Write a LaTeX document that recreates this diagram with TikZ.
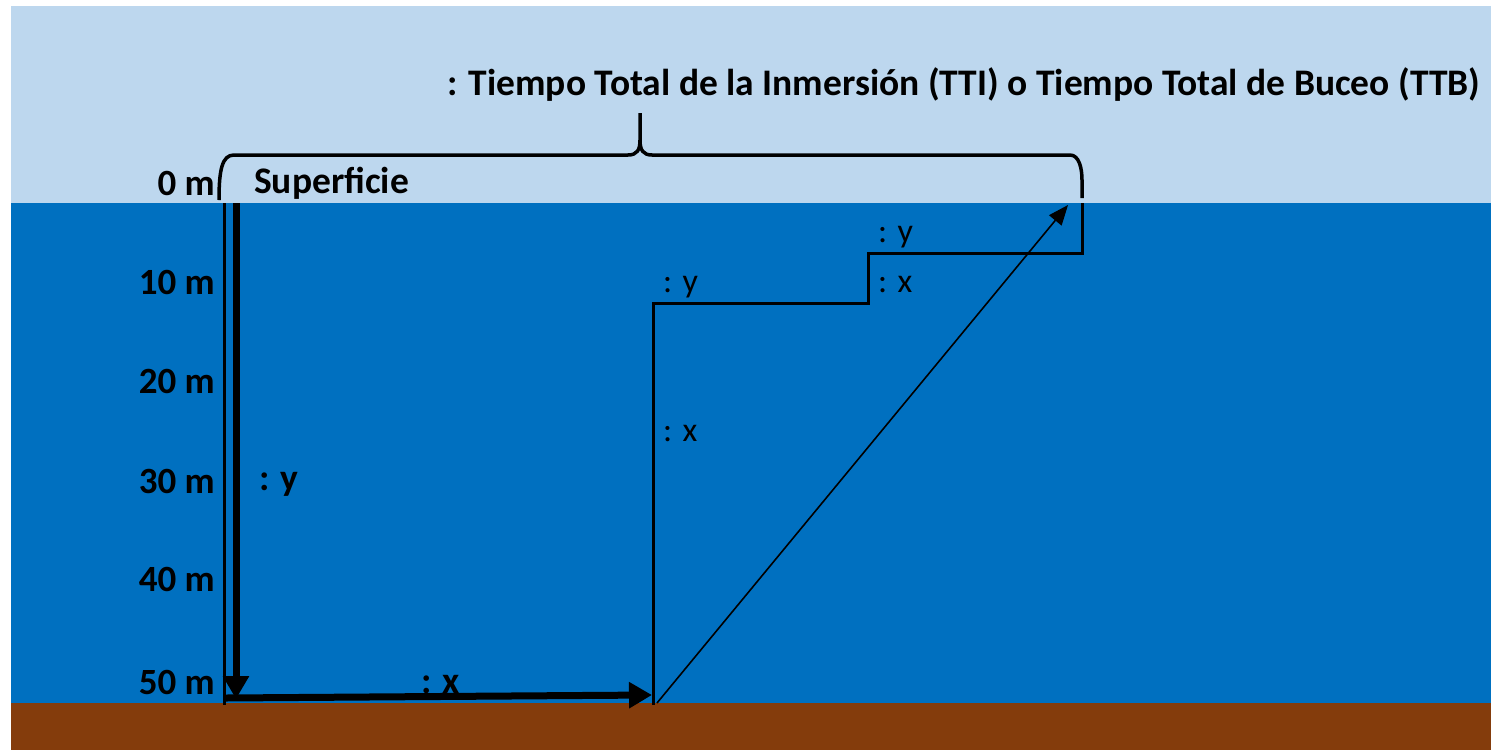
\documentclass[tikz,border=0pt]{standalone}
\usepackage{fontspec}
\setmainfont{Carlito}
\usetikzlibrary{arrows.meta}
\definecolor{sky}{HTML}{BDD7EE}
\definecolor{water}{HTML}{0070C0}
\definecolor{seabed}{HTML}{843C0C}
\begin{document}
\begin{tikzpicture}[x=1pt,y=-1pt,
  depth/.style={anchor=east,inner sep=0pt,font=\fontsize{37}{40}\selectfont\bfseries},
  boldlbl/.style={anchor=base west,inner sep=0pt,font=\fontsize{37.5}{40}\selectfont\bfseries},
  lbl/.style={anchor=base west,inner sep=0pt,font=\fontsize{34}{40}\selectfont},
  profile/.style={line width=3pt,line join=miter},
  thickarrow/.style={line width=7pt,-{Triangle[length=23pt,width=25pt]}},
  thinarrow/.style={line width=1.6pt,-{Triangle[length=20pt,width=16pt]}},
  bracepath/.style={line width=3.5pt,line cap=butt}]
\useasboundingbox (0,0) rectangle (1491,750);
\fill[white] (0,0) rectangle (1491,750);
\fill[sky] (11,6) rectangle (1491,203);
\fill[water] (11,203) rectangle (1491,703);
\fill[seabed] (11,703) rectangle (1491,750);

% title and labels
\node[boldlbl] (title) at (447,95) {: Tiempo Total de la Inmersión (TTI) o Tiempo Total de Buceo (TTB)};
\node[boldlbl] (surf) at (254,193) {Superficie};
\node[depth] (d0) at (215,183) {0 m};
\node[depth] (d10) at (215,282) {10 m};
\node[depth] (d20) at (215,381) {20 m};
\node[depth] (d30) at (215,481) {30 m};
\node[depth] (d40) at (215,579) {40 m};
\node[depth] (d50) at (215,682) {50 m};

% profile
\coordinate (p0) at (224,203);
\coordinate (p1) at (224,705);
\coordinate (p2) at (653,705);
\coordinate (p3) at (653,303);
\coordinate (p4) at (868,303);
\coordinate (p5) at (868,253);
\coordinate (p6) at (1082,253);
\coordinate (p7) at (1082,203);
\draw[profile] (p0) -- (p1);
\draw[profile] (p2) -- (p3) -- (p4) -- (p5) -- (p6) -- (p7);

% descent and bottom arrows
\coordinate (a0) at (236,203);
\coordinate (a1) at (236,699);
\coordinate (b0) at (226,698);
\coordinate (b1) at (652,695);
\draw[thickarrow] (a0) -- (a1);
\draw[thickarrow] (b0) -- (b1);

% ascent arrow
\coordinate (c0) at (657,703);
\coordinate (c1) at (1068,205);
\draw[thinarrow] (c0) -- (c1);

% segment labels
\node[boldlbl] (ly1) at (259,490) {: y};
\node[boldlbl] (lx1) at (421,693) {: x};
\node[lbl] (lx2) at (663,441) {: x};
\node[lbl] (ly2) at (663,292) {: y};
\node[lbl] (lx3) at (878,292) {: x};
\node[lbl] (ly3) at (878,242) {: y};

% brace
\coordinate (bl) at (219,200);
\coordinate (bt) at (640,113);
\coordinate (br) at (1082,198);
\draw[bracepath] (bl) .. controls (219,170) and (222,155) .. (234,155)
  -- (628,155) .. controls (637,155) and (640,150) .. (640,140) -- (bt)
  -- (640,140) .. controls (640,150) and (643,155) .. (652,155)
  -- (1070,155) .. controls (1079,155) and (1082,168) .. (1082,180) -- (br);
\end{tikzpicture}
\end{document}
